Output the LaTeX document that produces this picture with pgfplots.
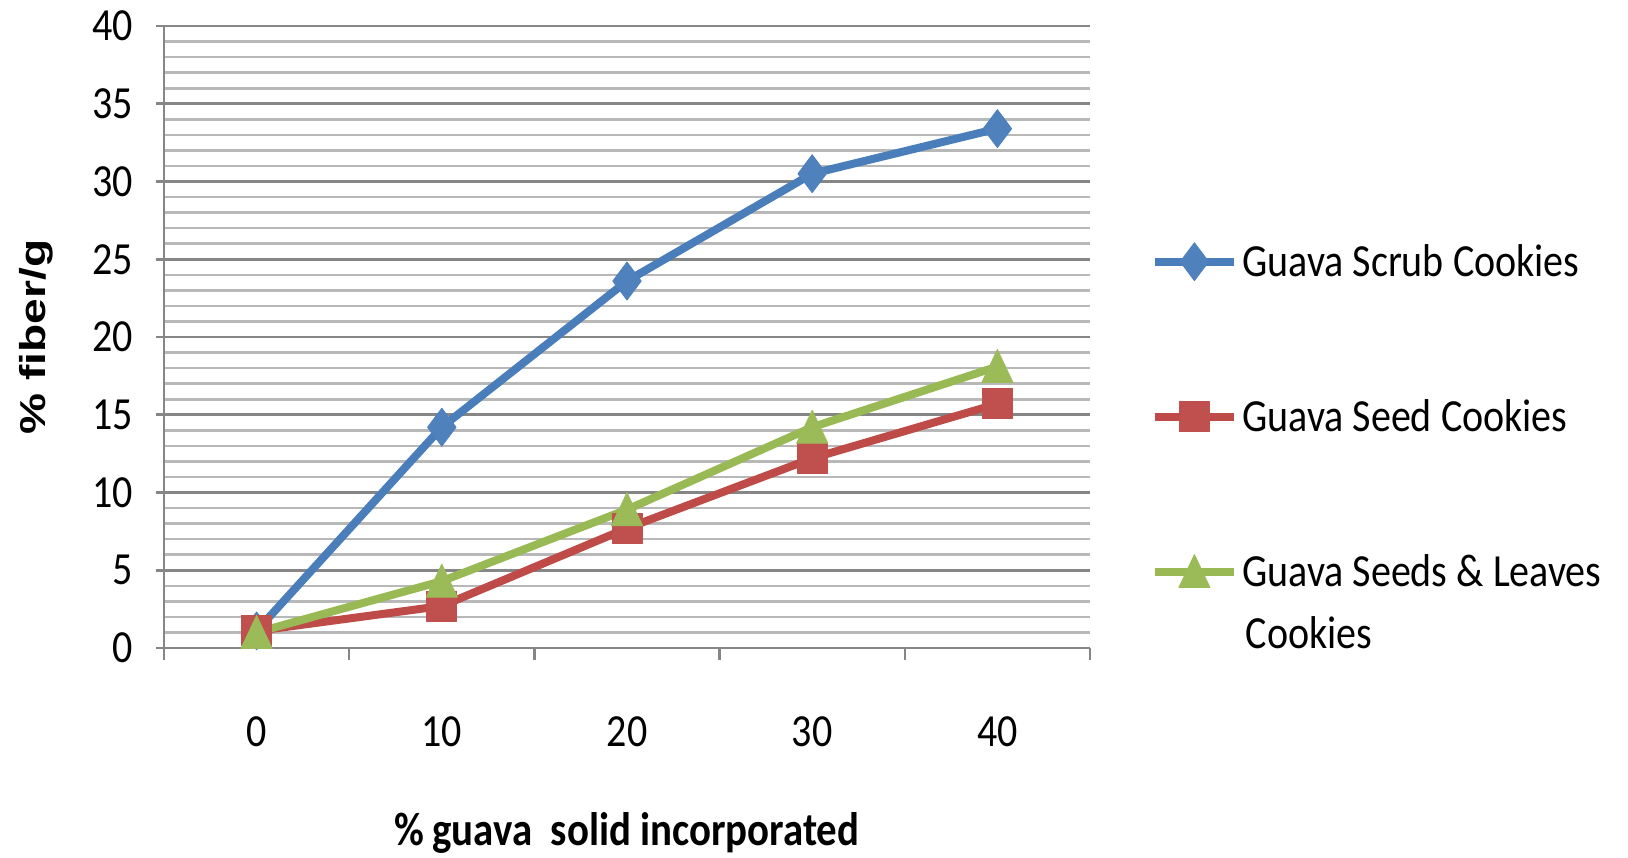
\documentclass[border=0pt]{standalone}
\usepackage{fontspec}
\setmainfont{Carlito}[FakeStretch=0.87]
\newfontfamily\arialfont{Liberation Sans}[FakeStretch=1.28]
\usepackage{pgfplots}
\pgfplotsset{compat=1.18}
\definecolor{scrubline}{HTML}{4A7EBB}
\definecolor{scrubfill}{HTML}{4F81BD}
\definecolor{seedline}{HTML}{BE4B48}
\definecolor{seedfill}{HTML}{C0504D}
\definecolor{leafline}{HTML}{98B954}
\definecolor{leaffill}{HTML}{9BBB59}
\definecolor{majgrid}{HTML}{868686}
\definecolor{mingrid}{HTML}{B8B8B8}
\begin{document}
\begin{tikzpicture}
\useasboundingbox (-82pt,-104.5pt) rectangle (732pt,324pt);
\begin{axis}[
  width=463pt, height=311pt, scale only axis,
  xmin=-0.5, xmax=4.5, ymin=0, ymax=40,
  axis lines*=left,
  axis line style={majgrid, line width=1.3pt},
  xtick={0,1,2,3,4}, xticklabels={0,10,20,30,40},
  minor xtick={-0.5,0.5,1.5,2.5,3.5,4.5},
  ytick={0,5,...,40}, minor ytick={1,2,3,4,6,7,8,9,11,12,13,14,16,17,18,19,21,22,23,24,26,27,28,29,31,32,33,34,36,37,38,39},
  tick align=outside, major tick length=4pt, minor tick length=6pt,
  major x tick style={draw=none},
  minor y tick style={draw=none},
  major y tick style={majgrid, line width=1.3pt},
  minor x tick style={majgrid, line width=1.3pt},
  ymajorgrids, yminorgrids,
  major grid style={majgrid, line width=1.3pt},
  minor grid style={mingrid, line width=1.3pt},
  /pgf/number format/assume math mode=true,
  tick label style={font=\fontsize{23}{27}\selectfont},
  yticklabel style={xshift=-8pt},
  xticklabel style={yshift=-27pt},
  every axis x label/.style={at={(axis description cs:0.5,-0.298)}, anchor=center, font=\fontsize{23.5}{27}\selectfont\bfseries},
  every axis y label/.style={at={(axis description cs:-0.1382,0.5)}, rotate=90, anchor=center, font=\fontsize{18}{22}\arialfont\bfseries},
  xlabel={\%\,guava\ \ solid incorporated},
  ylabel={\% fiber/g},
  clip=false,
  legend image code/.code={\draw[mark repeat=2,mark phase=2,#1] plot coordinates {(0cm,0cm)(0.7cm,0cm)(1.4cm,0cm)};},
  legend cell align=left,
  legend style={at={(axis description cs:1.065,0.372)}, anchor=west, draw=none, fill=none, inner sep=0pt, row sep=56pt, font=\fontsize{23}{27}\selectfont},
]
\addplot[scrubline, line width=4pt, line join=round, mark=diamond*, mark size=9.5pt, mark options={solid, fill=scrubfill, draw=scrubfill, line width=0.4pt}]
  coordinates {(0,1.1)(1,14.2)(2,23.6)(3,30.5)(4,33.4)};
\addlegendentry{Guava Scrub Cookies}
\addplot[seedline, line width=4pt, line join=round, mark=square*, mark size=7.5pt, mark options={solid, fill=seedfill, draw=seedfill, line width=0.4pt}]
  coordinates {(0,1.1)(1,2.7)(2,7.7)(3,12.2)(4,15.7)};
\addlegendentry{Guava Seed Cookies}
\addplot[leafline, line width=4pt, line join=round, mark=triangle*, mark size=11pt, mark options={solid, fill=leaffill, draw=leaffill, line width=0.4pt, xscale=0.82, yshift=-2.5pt}]
  coordinates {(0,1.0)(1,4.3)(2,8.9)(3,14.2)(4,18.1)};
\addlegendentry{Guava Seeds \& Leaves}
\node[anchor=west, inner sep=0pt, font=\fontsize{23}{27}\selectfont] at (axis description cs:1.168,0.024) {Cookies};
\end{axis}
\end{tikzpicture}
\end{document}
